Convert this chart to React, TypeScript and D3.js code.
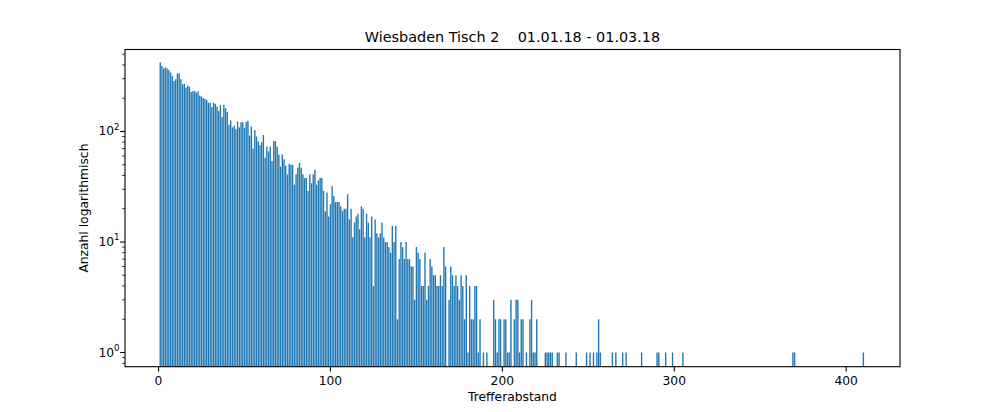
import React, { useEffect, useRef } from "react";
import * as d3 from "d3";

// Trefferabstand 1..187 (dense part), 0 = no bar
const anzahlDicht = [
  421, 392, 372, 380, 372, 361, 342, 318, 286, 297,
  335, 335, 297, 267, 270, 250, 261, 255, 228, 232,
  232, 225, 231, 211, 207, 201, 197, 193, 182, 182,
  166, 182, 178, 168, 153, 174, 135, 174, 162, 150,
  115, 126, 109, 113, 105, 123, 109, 121, 121, 108,
  122, 125, 92, 111, 70, 103, 90, 81, 75, 80,
  93, 58, 73, 66, 73, 54, 82, 82, 73, 62,
  48, 62, 56, 49, 41, 51, 50, 50, 33, 41,
  47, 52, 47, 41, 38, 38, 29, 41, 34, 41,
  45, 33, 36, 38, 38, 29, 19, 28, 17, 22,
  32, 26, 23, 23, 23, 21, 19, 20, 20, 27,
  16, 20, 11, 15, 17, 18, 13, 21, 20, 11,
  18, 15, 11, 17, 4, 16, 12, 11, 12, 15,
  11, 10, 10, 9, 8, 14, 10, 14, 2, 7,
  10, 9, 7, 10, 7, 7, 6, 6, 3, 9,
  8, 7, 4, 4, 8, 3, 4, 7, 6, 5,
  5, 4, 4, 5, 4, 9, 6, 0, 3, 6,
  5, 4, 5, 4, 3, 5, 4, 2, 5, 1,
  4, 2, 2, 4, 4, 1, 2,
];

// sparse tail
const abstandEinzeln = [
  189, 191, 195, 196, 197, 198, 199, 201, 202, 203, 204, 205, 207, 208, 209,
  210, 211, 212, 214, 216, 217, 218, 219, 220, 225, 226, 227, 228, 229, 232,
  233, 237, 243, 249, 251, 253, 255, 256, 257, 264, 266, 270, 272, 281, 290,
  291, 295, 299, 305, 369, 370, 410,
];
const anzahlEinzeln = [
  1, 1, 3, 2, 1, 2, 2, 2, 2, 1, 1, 3, 2, 3, 3,
  1, 2, 2, 1, 2, 3, 1, 1, 2, 1, 1, 1, 1, 1, 1,
  1, 1, 1, 1, 1, 1, 1, 2, 1, 1, 1, 1, 1, 1, 1,
  1, 1, 1, 1, 1, 1, 1,
];

const xTicks = [0, 100, 200, 300, 400];
const yMajor = [1, 10, 100];
const yMinor = [0.8, 0.9, 2, 3, 4, 5, 6, 7, 8, 9, 20, 30, 40, 50, 60, 70, 80, 90, 200, 300, 400, 500];

const App: React.FC = () => {
  const svgRef = useRef<SVGSVGElement | null>(null);

  useEffect(() => {
    const width = 1000;
    const height = 412;
    const margin = { top: 49.5, right: 100, bottom: 45.3, left: 125 };
    const bottom = height - margin.bottom;

    const data = [
      ...anzahlDicht.map((v, i) => ({ x: i + 1, v })),
      ...abstandEinzeln.map((x, i) => ({ x, v: anzahlEinzeln[i] })),
    ].filter((d) => d.v > 0);

    const xScale = d3.scaleLinear().domain([-19.5, 431.3]).range([margin.left, width - margin.right]);
    const yScale = d3.scaleLog().domain([0.744, 552]).range([bottom, margin.top]);

    const svg = d3.select(svgRef.current);
    svg.selectAll("*").remove();

    svg.append("rect").attr("width", width).attr("height", height).attr("fill", "white");

    // bars
    const bw = xScale(0.8) - xScale(0);
    svg
      .append("g")
      .selectAll("rect")
      .data(data)
      .enter()
      .append("rect")
      .attr("x", (d) => xScale(d.x - 0.4))
      .attr("y", (d) => yScale(d.v))
      .attr("width", bw)
      .attr("height", (d) => bottom - yScale(d.v))
      .attr("fill", "#1f77b4");

    // frame
    svg
      .append("rect")
      .attr("x", margin.left)
      .attr("y", margin.top)
      .attr("width", width - margin.left - margin.right)
      .attr("height", bottom - margin.top)
      .attr("fill", "none")
      .attr("stroke", "black")
      .attr("stroke-width", 1.1);

    const font = "DejaVu Sans, sans-serif";
    const fs = 12.3;

    // x ticks
    const xg = svg.append("g");
    xTicks.forEach((t) => {
      xg.append("line")
        .attr("x1", xScale(t)).attr("x2", xScale(t))
        .attr("y1", bottom).attr("y2", bottom + 4.9)
        .attr("stroke", "black").attr("stroke-width", 1.1);
      xg.append("text")
        .attr("x", xScale(t)).attr("y", 385)
        .attr("text-anchor", "middle")
        .attr("font-family", font).attr("font-size", fs)
        .text(t);
    });

    // y ticks
    const yg = svg.append("g");
    yMinor.forEach((t) => {
      yg.append("line")
        .attr("x1", margin.left - 2.8).attr("x2", margin.left)
        .attr("y1", yScale(t)).attr("y2", yScale(t))
        .attr("stroke", "black").attr("stroke-width", 0.8);
    });
    yMajor.forEach((t, i) => {
      yg.append("line")
        .attr("x1", margin.left - 4.9).attr("x2", margin.left)
        .attr("y1", yScale(t)).attr("y2", yScale(t))
        .attr("stroke", "black").attr("stroke-width", 1.1);
      const txt = yg.append("text")
        .attr("x", 119.5).attr("y", yScale(t) + 4)
        .attr("text-anchor", "end")
        .attr("font-family", font).attr("font-size", fs);
      txt.append("tspan").text("10");
      txt.append("tspan").attr("dy", -5.5).attr("font-size", 8.6).text(String(i));
    });

    // labels
    svg.append("text")
      .attr("x", (margin.left + width - margin.right) / 2).attr("y", 400.7)
      .attr("text-anchor", "middle")
      .attr("font-family", font).attr("font-size", fs)
      .text("Trefferabstand");

    svg.append("text")
      .attr("transform", `translate(87.5, ${(margin.top + bottom) / 2}) rotate(-90)`)
      .attr("text-anchor", "middle")
      .attr("font-family", font).attr("font-size", fs)
      .text("Anzahl logarithmisch");

    svg.append("text")
      .attr("x", (margin.left + width - margin.right) / 2).attr("y", 42)
      .attr("text-anchor", "middle")
      .attr("font-family", font).attr("font-size", 14.4)
      .style("white-space", "pre")
      .text("Wiesbaden Tisch 2    01.01.18 - 01.03.18");
  }, []);

  return (
    <svg
      ref={svgRef}
      width={1000}
      height={412}
      style={{ position: "absolute", left: 0, top: 0 }}
    ></svg>
  );
};

export default App;
